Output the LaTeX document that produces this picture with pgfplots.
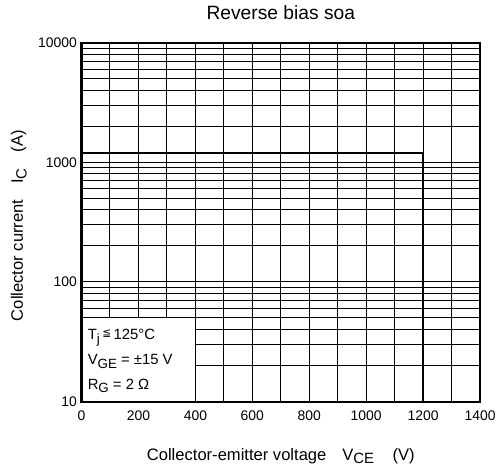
\documentclass[border=0pt]{standalone}
\usepackage{fontspec}
\setmainfont{Liberation Sans}
\newfontfamily\dejavu{DejaVu Sans}
\usepackage{graphicx}
\usepackage{pgfplots}
\pgfplotsset{compat=1.18}
\newcommand{\sub}[1]{\raisebox{-0.22em}{\scalebox{0.9}{#1}}}

\begin{document}
\begin{tikzpicture}
\begin{axis}[
  name=ax,
  width=300.75pt, height=270.75pt, scale only axis,
  xmin=0, xmax=1400, ymin=10, ymax=10000,
  ymode=log,
  xtick={0,200,...,1400},
  minor x tick num=1,
  ytick={10,100,1000,10000},
  yticklabels={10,100,1000,10000},
  grid=both,
  major grid style={black, line width=0.75pt},
  minor grid style={black, line width=0.75pt},
  axis line style={line width=1.6pt},
  major tick length=0pt, minor tick length=0pt,
  tick label style={font=\fontsize{10.5}{12}\selectfont},
  xticklabel style={yshift=-3.5pt},
  /pgf/number format/assume math mode=true,
  /pgf/number format/1000 sep={},
  title={Reverse bias soa},
  title style={font=\fontsize{14.5}{17}\selectfont, at={(axis description cs:0.5,1.042)}, anchor=base},
  xlabel={Collector-emitter voltage\hspace{12pt}V\sub{CE}\hspace{14pt}(V)},
  xlabel style={font=\fontsize{12.5}{15}\selectfont, at={(axis description cs:0.5,-0.1634)}, anchor=base},
  ylabel={Collector current\hspace{12pt}I\sub{C}\hspace{12pt}(A)},
  ylabel style={font=\fontsize{12.5}{15}\selectfont, at={(axis description cs:-0.1471,0.49)}, anchor=base},
  clip=false,
]
% condition box
\fill[white] (axis cs:0,10) rectangle (axis cs:400,50);
\draw[line width=0.75pt] (axis cs:0,50) -| (axis cs:400,10);
\draw[line width=1.6pt] (axis cs:0,50) |- (axis cs:400,10);

\addplot[black, line width=1.9pt, mark=none] coordinates {
  (0,1200) (1200,1200) (1200,10)
};

\node[anchor=base west, inner sep=0pt, font=\fontsize{11.2}{13}\selectfont] at (axis description cs:0.015,0.1717)
  {T\sub{j}\,\raisebox{0.22em}{\dejavu\fontsize{8}{9}\selectfont ≦}\,125°C};
\node[anchor=base west, inner sep=0pt, font=\fontsize{11.2}{13}\selectfont] at (axis description cs:0.015,0.1025)
  {V\sub{GE} = ±15 V};
\node[anchor=base west, inner sep=0pt, font=\fontsize{11.2}{13}\selectfont] at (axis description cs:0.015,0.0332)
  {R\sub{G} = 2 Ω};
\end{axis}
\useasboundingbox ([xshift=-61.5pt,yshift=-48.75pt]ax.south west) rectangle ([xshift=12.75pt,yshift=32.25pt]ax.north east);
\end{tikzpicture}
\end{document}
